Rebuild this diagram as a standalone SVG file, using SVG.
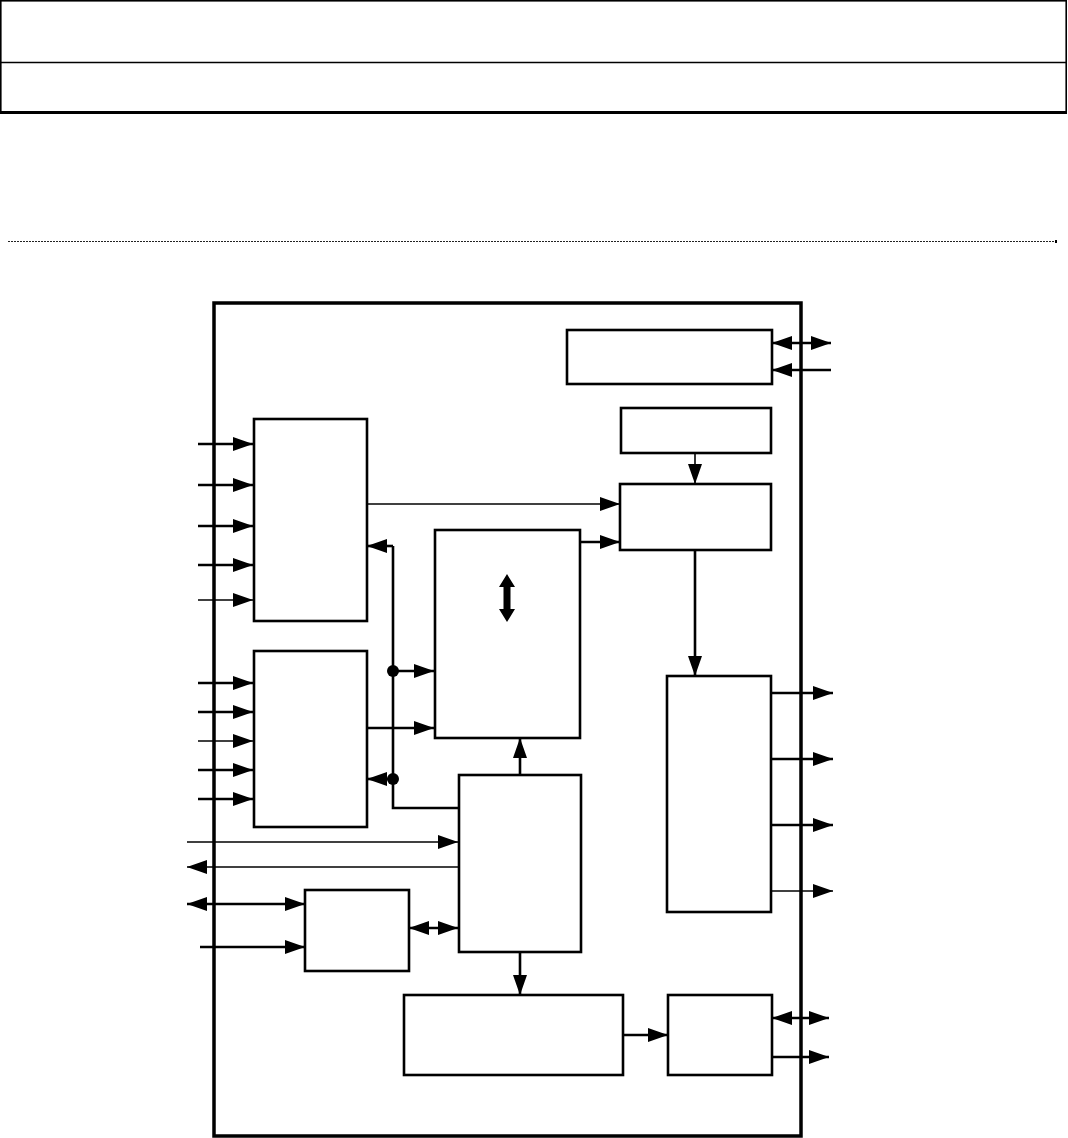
<svg xmlns="http://www.w3.org/2000/svg" width="1068" height="1138" viewBox="0 0 1068 1138">
<style>
.box{fill:#fff;stroke:#000;stroke-width:2.6}
.w{fill:none;stroke:#000;stroke-width:2.6}
.t{fill:none;stroke:#000;stroke-width:1.6}
.a{marker-end:url(#ah)}
.d{marker-start:url(#ah);marker-end:url(#ah)}
</style>
<defs>
<marker id="ah" viewBox="0 0 20 14" refX="20" refY="7" markerWidth="20" markerHeight="14" markerUnits="userSpaceOnUse" orient="auto-start-reverse">
<path d="M0,0 L20,7 L0,14 z" fill="#000"/>
</marker>
</defs>
<rect width="1068" height="1138" fill="#fff"/>
<g id="header">
<rect x="0.8" y="0.8" width="1065.4" height="111" fill="none" stroke="#000" stroke-width="1.6"/>
<line x1="0" y1="62.5" x2="1067" y2="62.5" stroke="#000" stroke-width="1.6"/>
<line x1="0" y1="112.5" x2="1067" y2="112.5" stroke="#000" stroke-width="3"/>
<line x1="8" y1="241.5" x2="1055" y2="241.5" stroke="#222" stroke-width="1.2" stroke-dasharray="2,1"/>
<rect x="1055" y="240" width="2" height="3" fill="#000"/>
</g>
<g id="main"><rect x="214" y="303" width="587" height="833" fill="none" stroke="#000" stroke-width="3.5"/></g>
<g id="n_in1"><rect class="box" x="254" y="419" width="113" height="202"/></g>
<g id="n_in2"><rect class="box" x="254" y="651" width="113" height="176"/></g>
<g id="n_center"><rect class="box" x="435" y="530" width="145" height="208"/>
<path d="M507,574 L515,587 L510.5,587 L510.5,609 L515,609 L507,622 L499,609 L503.5,609 L503.5,587 L499,587 z" fill="#000"/></g>
<g id="n_ctrl"><rect class="box" x="459" y="775" width="122" height="177"/></g>
<g id="n_io"><rect class="box" x="305" y="890" width="104" height="81"/></g>
<g id="n_bottom"><rect class="box" x="404" y="995" width="219" height="80"/></g>
<g id="n_br"><rect class="box" x="668" y="995" width="104" height="80"/></g>
<g id="n_top"><rect class="box" x="567" y="330" width="205" height="54"/></g>
<g id="n_small"><rect class="box" x="621" y="408" width="150" height="45"/></g>
<g id="n_mid"><rect class="box" x="620" y="484" width="151" height="66"/></g>
<g id="n_out"><rect class="box" x="667" y="676" width="104" height="236"/></g>
<g id="connectors">
<path class="w a" d="M198,444 H253"/>
<path class="w a" d="M198,485 H253"/>
<path class="w a" d="M198,526 H253"/>
<path class="w a" d="M198,565 H253"/>
<path class="t a" d="M198,600 H253"/>
<path class="w a" d="M198,683 H253"/>
<path class="w a" d="M198,712 H253"/>
<path class="t a" d="M198,741 H253"/>
<path class="w a" d="M198,770 H253"/>
<path class="w a" d="M198,799 H253"/>
<path class="t a" d="M367,504 H620"/>
<path class="w" d="M393,546 V808 H459"/>
<path class="w a" d="M393,546 H367"/>
<path class="w a" d="M393,671 H434"/>
<path class="w a" d="M393,779 H367"/>
<circle cx="393" cy="671" r="6"/>
<circle cx="393" cy="779" r="6"/>
<path class="w a" d="M367,728 H434"/>
<path class="w a" d="M580,542 H620"/>
<path class="w a" d="M520,775 V738"/>
<path class="t a" d="M187,842 H458"/>
<path class="t a" d="M458,867 H187"/>
<path class="w d" d="M187,904 H305"/>
<path class="w a" d="M200,947 H305"/>
<path class="w d" d="M409,928 H458"/>
<path class="w a" d="M520,952 V995"/>
<path class="w a" d="M623,1035 H668"/>
<path class="w d" d="M772,1018 H829"/>
<path class="w a" d="M772,1057 H829"/>
<path class="w d" d="M772,343 H831"/>
<path class="w a" d="M831,370 H772"/>
<path class="t a" d="M695,453 V484"/>
<path class="w a" d="M695,550 V676"/>
<path class="w a" d="M771,693 H833"/>
<path class="w a" d="M771,759 H833"/>
<path class="w a" d="M771,825 H833"/>
<path class="t a" d="M771,891 H833"/>
</g>
</svg>
